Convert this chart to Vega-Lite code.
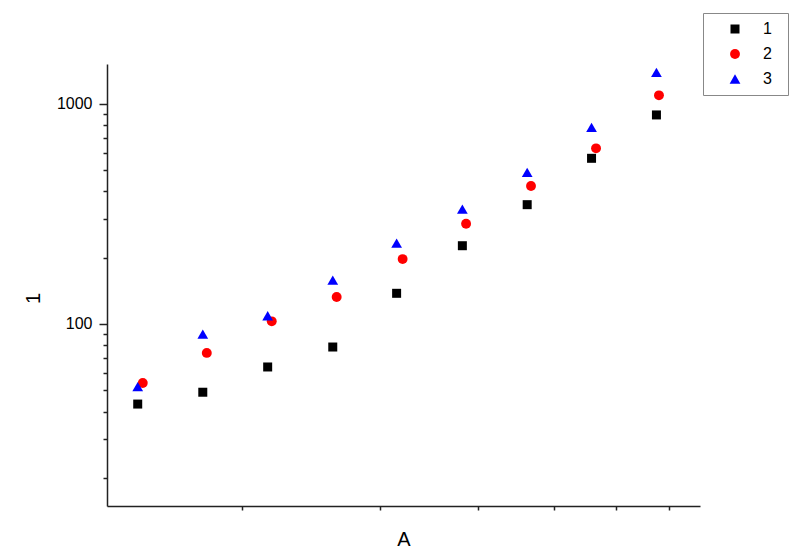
{
  "$schema": "https://vega.github.io/schema/vega-lite/v6.json",
  "autosize": {"type": "none"},
  "width": 593,
  "height": 442,
  "padding": {"left": 107, "top": 64, "right": 100, "bottom": 52},
  "background": "white",
  "config": {
    "view": {"stroke": null},
    "font": "Liberation Sans",
    "axis": {"grid": false, "domainColor": "#222", "tickColor": "#222", "domainWidth": 1.5, "tickWidth": 1.5, "labelColor": "#000", "titleColor": "#000", "labelFont": "Liberation Sans", "titleFont": "Liberation Sans", "titleFontWeight": "normal", "labelFontSize": 16, "titleFontSize": 20}
  },
  "data": {
    "values": [
      {"series": "1", "x": 1.474, "y": 43.3},
      {"series": "1", "x": 1.784, "y": 49},
      {"series": "1", "x": 2.158, "y": 63.8},
      {"series": "1", "x": 2.612, "y": 78.6},
      {"series": "1", "x": 3.15, "y": 137.8},
      {"series": "1", "x": 3.82, "y": 226.6},
      {"series": "1", "x": 4.62, "y": 348},
      {"series": "1", "x": 5.58, "y": 565},
      {"series": "1", "x": 6.75, "y": 889},
      {"series": "2", "x": 1.496, "y": 54},
      {"series": "2", "x": 1.805, "y": 73.9},
      {"series": "2", "x": 2.184, "y": 102.8},
      {"series": "2", "x": 2.642, "y": 132.6},
      {"series": "2", "x": 3.206, "y": 197},
      {"series": "2", "x": 3.862, "y": 285},
      {"series": "2", "x": 4.672, "y": 423},
      {"series": "2", "x": 5.654, "y": 627},
      {"series": "2", "x": 6.8, "y": 1091},
      {"series": "3", "x": 1.474, "y": 52},
      {"series": "3", "x": 1.784, "y": 90},
      {"series": "3", "x": 2.158, "y": 109},
      {"series": "3", "x": 2.612, "y": 158},
      {"series": "3", "x": 3.15, "y": 233},
      {"series": "3", "x": 3.82, "y": 332},
      {"series": "3", "x": 4.62, "y": 488},
      {"series": "3", "x": 5.58, "y": 781},
      {"series": "3", "x": 6.75, "y": 1388}
    ]
  },
  "mark": {"type": "point", "filled": true, "opacity": 1, "strokeWidth": 0},
  "encoding": {
    "x": {
      "field": "x", "type": "quantitative",
      "scale": {"type": "log", "domain": [1.347, 7.67], "nice": false, "zero": false},
      "axis": {"title": "A", "values": [2, 3, 4, 5, 6, 7], "labels": false, "tickSize": 4, "titlePadding": 19}
    },
    "y": {
      "field": "y", "type": "quantitative",
      "scale": {"type": "log", "domain": [14.92, 1514], "nice": false, "zero": false},
      "axis": {
        "title": "1",
        "values": [20, 30, 40, 50, 60, 70, 80, 90, 100, 200, 300, 400, 500, 600, 700, 800, 900, 1000],
        "labelExpr": "datum.value == 100 ? '100' : datum.value == 1000 ? '1000' : ''",
        "tickSize": {"condition": {"test": "datum.value == 100 || datum.value == 1000", "value": 8}, "value": 4},
        "labelPadding": 7,
        "titleX": -74, "titleY": 234, "titleAlign": "center", "titleBaseline": "middle", "titleAngle": -90
      }
    },
    "color": {
      "field": "series", "type": "nominal",
      "scale": {"domain": ["1", "2", "3"], "range": ["#000000", "#ff0000", "#0000ff"]},
      "legend": {
        "title": "1", "titleOrient": "right", "titleOpacity": 0, "titleFontSize": 10, "titlePadding": 2,
        "orient": "none", "legendX": 596, "legendY": -51, "strokeColor": "#888",
        "padding": 8, "symbolOffset": 16, "labelOffset": 20, "labelFontSize": 16, "labelFont": "Liberation Sans", "labelColor": "#000", "rowPadding": 9, "symbolStrokeWidth": 0,
        "encode": {"symbols": {"update": {"size": {"scale": "size", "field": "value"}}}}
      }
    },
    "shape": {
      "field": "series", "type": "nominal",
      "scale": {"domain": ["1", "2", "3"], "range": ["square", "circle", "triangle-up"]}
    },
    "size": {
      "field": "series", "type": "nominal",
      "scale": {"domain": ["1", "2", "3"], "range": [81, 115, 150]}
    }
  }
}
